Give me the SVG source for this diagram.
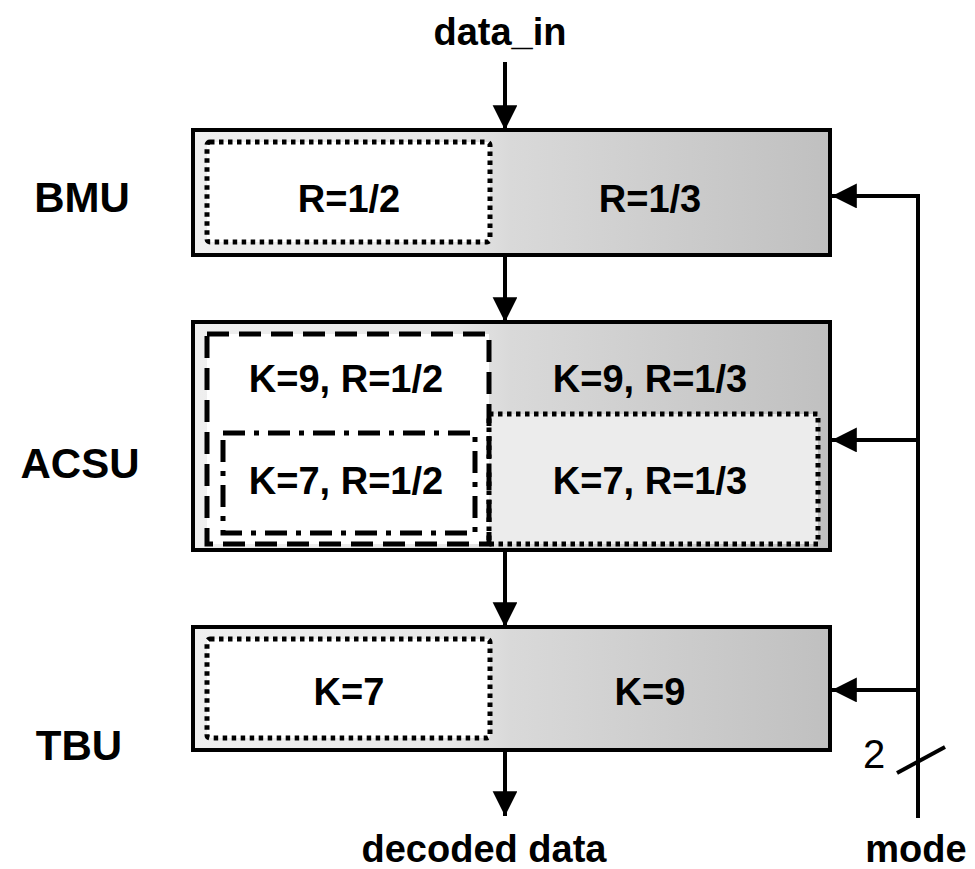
<svg xmlns="http://www.w3.org/2000/svg" width="975" height="869" viewBox="0 0 975 869">
<style>
text{font-family:"Liberation Sans",Arial,sans-serif;font-weight:bold;fill:#000}
.lbl{font-size:42px;text-anchor:middle}
.in{font-size:38px;text-anchor:middle}
.io{font-size:38px;text-anchor:middle}
.box{stroke:#000;stroke-width:4;fill:url(#shade)}
.dot{fill:#fff;stroke:#000;stroke-width:5;stroke-dasharray:4.5 4.5}
.dash{fill:none;stroke:#000;stroke-width:5;stroke-dasharray:22 10}
.dashdot{fill:none;stroke:#000;stroke-width:5;stroke-dasharray:22 9 5 9}
.wire{stroke:#000;stroke-width:4;fill:none}
</style>
<defs>
<linearGradient id="shade" x1="193" y1="0" x2="830" y2="0" gradientUnits="userSpaceOnUse">
<stop offset="0" stop-color="#efefef"/>
<stop offset="0.4" stop-color="#e8e8e8"/>
<stop offset="0.5" stop-color="#d9d9d9"/>
<stop offset="1" stop-color="#c0c0c0"/>
</linearGradient>
<marker id="arr" markerWidth="6.5" markerHeight="6.5" refX="6.2" refY="3.1" orient="auto" markerUnits="strokeWidth">
<path d="M0,0 L6.2,3.1 L0,6.2 Z" fill="#000"/>
</marker>
</defs>

<g id="labels">
<text class="lbl" x="82" y="212">BMU</text>
<text class="lbl" x="80" y="478">ACSU</text>
<text class="lbl" x="79" y="760">TBU</text>
</g>

<g id="bmu">
<rect class="box" x="193" y="130" width="637" height="125"/>
<rect class="dot" x="207" y="142" width="283" height="100" rx="3"/>
<text class="in" x="349" y="212">R=1/2</text>
<text class="in" x="650" y="212">R=1/3</text>
</g>

<g id="acsu">
<rect class="box" x="193" y="322" width="637" height="228"/>
<rect x="207" y="334" width="282" height="210" fill="#fff"/>
<rect x="489" y="414" width="329" height="130" fill="#ececec"/>
<rect class="dash" x="207" y="334" width="282" height="210"/>
<rect class="dashdot" x="223" y="433" width="252" height="100"/>
<rect x="489" y="414" width="329" height="130" fill="none" stroke="#000" stroke-width="5" stroke-dasharray="4.5 4.5"/>
<text class="in" x="346" y="392">K=9, R=1/2</text>
<text class="in" x="650" y="392">K=9, R=1/3</text>
<text class="in" x="346" y="494">K=7, R=1/2</text>
<text class="in" x="650" y="494">K=7, R=1/3</text>
</g>

<g id="tbu">
<rect class="box" x="193" y="627" width="637" height="123"/>
<rect class="dot" x="207" y="639" width="283" height="99" rx="3"/>
<text class="in" x="349" y="705">K=7</text>
<text class="in" x="650" y="705">K=9</text>
</g>

<g id="io">
<text class="io" x="500" y="45">data_in</text>
<text class="io" x="484" y="862">decoded data</text>
<text class="io" x="916" y="862">mode</text>
<text x="874" y="768" style="font-size:40px;font-weight:normal;text-anchor:middle">2</text>
</g>

<g id="connectors">
<line class="wire" x1="505" y1="62" x2="505" y2="130" marker-end="url(#arr)"/>
<line class="wire" x1="505" y1="255" x2="505" y2="322" marker-end="url(#arr)"/>
<line class="wire" x1="505" y1="550" x2="505" y2="627" marker-end="url(#arr)"/>
<line class="wire" x1="505" y1="750" x2="505" y2="816" marker-end="url(#arr)"/>
<polyline class="wire" points="918,818 918,196 832,196" marker-end="url(#arr)" stroke-linejoin="miter"/>
<line class="wire" x1="918" y1="440" x2="832" y2="440" marker-end="url(#arr)"/>
<line class="wire" x1="918" y1="690" x2="832" y2="690" marker-end="url(#arr)"/>
<line class="wire" x1="897" y1="773" x2="945" y2="747" stroke-width="5"/>
</g>
</svg>
